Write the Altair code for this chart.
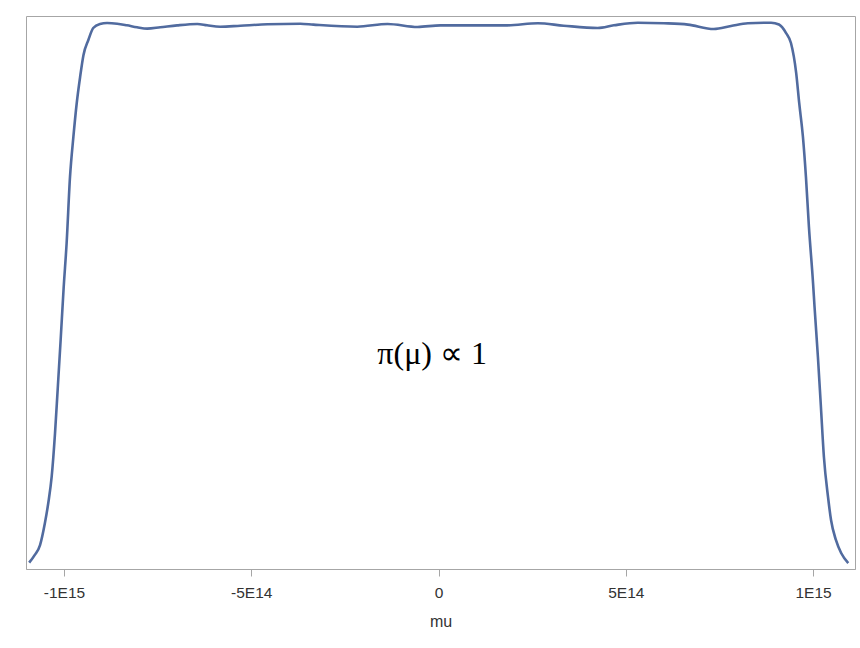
import altair as alt
import pandas as pd

# mu values (in units of 1e14) and density (arbitrary units)
mu_e14 = [-10.93, -10.78, -10.64, -10.51, -10.42, -10.33, -10.24, -10.17, -10.09, -10.01,
          -9.93, -9.84, -9.75, -9.66, -9.57, -9.48, -9.35, -9.22, -9.04, -8.85,
          -8.58, -8.32, -8.05, -7.78, -7.43, -6.98, -6.44, -6.18, -5.83, -5.29,
          -4.57, -3.69, -3.34, -2.17, -1.36, -0.56, 0.05, 1.12, 1.84, 2.65,
          3.34, 4.25, 4.68, 5.32, 6.02, 6.66, 7.35, 7.81, 8.26, 8.88,
          9.09, 9.28, 9.41, 9.55, 9.63, 9.73, 9.81, 9.89, 10.00, 10.04,
          10.13, 10.21, 10.29, 10.40, 10.48, 10.61, 10.75, 10.94]
density = [0.055, 0.122, 0.208, 0.399, 0.573, 0.799, 1.180, 1.554, 1.988, 2.439,
           2.830, 3.403, 3.750, 4.045, 4.271, 4.462, 4.592, 4.696, 4.731, 4.739,
           4.733, 4.719, 4.702, 4.690, 4.702, 4.719, 4.731, 4.719, 4.707, 4.716,
           4.728, 4.733, 4.725, 4.707, 4.731, 4.705, 4.719, 4.719, 4.719, 4.737,
           4.716, 4.696, 4.719, 4.742, 4.737, 4.725, 4.687, 4.713, 4.737, 4.742,
           4.726, 4.652, 4.566, 4.305, 4.045, 3.750, 3.403, 2.969, 2.482, 2.274,
           1.840, 1.406, 0.972, 0.625, 0.425, 0.252, 0.139, 0.052]

tick_values = [-1e15, -5e14, 0, 5e14, 1e15]
label_text = ["π(μ) ∝ 1"]
label_mu = [-0.17e14]
label_density = [1.87]

df = pd.DataFrame({"mu": [v * 1e14 for v in mu_e14], "density": density})
df_lab = pd.DataFrame({"mu": label_mu, "density": label_density, "text": label_text})

xscale = alt.Scale(domain=[-11.015e14, 11.12e14], nice=False, zero=False)
yscale = alt.Scale(domain=[0, 4.8], nice=False, zero=False)

label_expr = ("datum.value == 0 ? '0' : "
              "replace(replace(format(datum.value, '.0e'), 'e+', 'E'), '\u2212', '-')")

line = alt.Chart(df).mark_line(
    color="#516b9f", strokeWidth=2.6, interpolate="monotone"
).encode(
    x=alt.X("mu:Q", scale=xscale, title="mu",
            axis=alt.Axis(values=tick_values, labelExpr=label_expr,
                          grid=False, tickSize=7, tickColor="#a6a6a6",
                          domainColor="#a6a6a6", labelPadding=9,
                          labelFont="Liberation Sans", labelFontSize=15.5,
                          labelColor="#333333", titleFont="Liberation Sans",
                          titleFontSize=16, titleFontWeight="normal",
                          titleColor="#333333", titlePadding=13)),
    y=alt.Y("density:Q", scale=yscale, axis=None),
)

txt = alt.Chart(df_lab).mark_text(
    font="Liberation Serif", fontSize=32, color="#000000",
    align="center", baseline="middle"
).encode(
    x=alt.X("mu:Q", scale=xscale),
    y=alt.Y("density:Q", scale=yscale),
    text="text:N",
)

chart = alt.layer(line, txt).properties(
    width=829, height=553,
    autosize=alt.AutoSizeParams(type="none"),
    padding={"left": 26, "top": 16, "right": 5, "bottom": 79},
    background="white",
).configure_view(stroke="#a6a6a6", strokeWidth=1)

chart.save("out.html", embed_options={"renderer": "svg", "actions": False})
